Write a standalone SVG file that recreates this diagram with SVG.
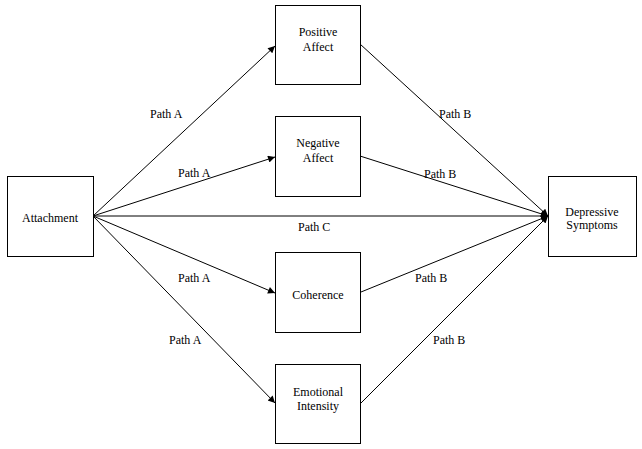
<svg xmlns="http://www.w3.org/2000/svg" width="642" height="449" viewBox="0 0 642 449" font-family="'Liberation Serif', 'Times New Roman', 'DejaVu Serif', serif">
<style>
.box{fill:#fff;stroke:#000;stroke-width:1}
text{font-family:'Liberation Serif','Times New Roman','DejaVu Serif',serif;font-size:12px;fill:#000}
.c{text-anchor:middle}
.ln{stroke:#000;stroke-width:1;fill:none;marker-end:url(#ah)}
</style>
<defs>
<marker id="ah" viewBox="0 0 10 10" refX="10" refY="5" markerWidth="9" markerHeight="7" markerUnits="userSpaceOnUse" orient="auto">
<path d="M0,0 L10,5 L0,10 z" fill="#000"/>
</marker>
</defs>
<rect width="642" height="449" fill="#fff"/>
<g id="connectors">
<line class="ln" x1="93" y1="216" x2="275" y2="46"/>
<line class="ln" x1="93" y1="216" x2="275" y2="157"/>
<line class="ln" x1="93" y1="216" x2="275" y2="293"/>
<line class="ln" x1="93" y1="216" x2="275" y2="403"/>
<line class="ln" x1="93" y1="216" x2="548" y2="216"/>
<line class="ln" x1="360" y1="44" x2="548" y2="216"/>
<line class="ln" x1="360" y1="156" x2="548" y2="216"/>
<line class="ln" x1="361" y1="292" x2="548" y2="216"/>
<line class="ln" x1="361" y1="403" x2="548" y2="216"/>
<text x="150" y="118">Path A</text>
<text x="178" y="177">Path A</text>
<text x="178" y="282">Path A</text>
<text x="169" y="344">Path A</text>
<text x="439" y="118">Path B</text>
<text x="424" y="178">Path B</text>
<text x="415" y="282">Path B</text>
<text x="433" y="344">Path B</text>
<text x="298" y="231">Path C</text>
</g>
<g id="attachment">
<rect class="box" x="7.5" y="176.5" width="86" height="80"/>
<text class="c" x="50" y="222">Attachment</text>
</g>
<g id="positive-affect">
<rect class="box" x="275.5" y="5.5" width="85" height="79"/>
<text class="c" x="318" y="36">Positive</text>
<text class="c" x="318" y="51">Affect</text>
</g>
<g id="negative-affect">
<rect class="box" x="275.5" y="116.5" width="85" height="80"/>
<text class="c" x="318" y="147">Negative</text>
<text class="c" x="318" y="162">Affect</text>
</g>
<g id="coherence">
<rect class="box" x="275.5" y="252.5" width="85" height="80"/>
<text class="c" x="318" y="299">Coherence</text>
</g>
<g id="emotional-intensity">
<rect class="box" x="275.5" y="364.5" width="85" height="79"/>
<text class="c" x="318" y="396">Emotional</text>
<text class="c" x="318" y="410">Intensity</text>
</g>
<g id="depressive-symptoms">
<rect class="box" x="548.5" y="176.5" width="88" height="80"/>
<text class="c" x="592" y="216">Depressive</text>
<text class="c" x="592" y="229">Symptoms</text>
</g>
</svg>
